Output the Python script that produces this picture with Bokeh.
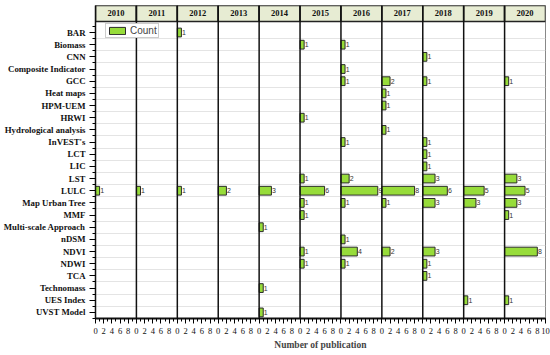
from bokeh.plotting import figure
from bokeh.models import Range1d, FixedTicker, ColumnDataSource, Span, Legend, LegendItem
from bokeh.core.properties import value
from bokeh.embed import file_html
from bokeh.resources import INLINE

methods = ["BAR", "Biomass", "CNN", "Composite Indicator", "GCC", "Heat maps", "HPM-UEM",
           "HRWI", "Hydrological analysis", "InVEST's", "LCT", "LIC", "LST", "LULC",
           "Map Urban Tree", "MMF", "Multi-scale Approach", "nDSM", "NDVI", "NDWI", "TCA",
           "Technomass", "UES Index", "UVST Model"]
years = [2010, 2011, 2012, 2013, 2014, 2015, 2016, 2017, 2018, 2019, 2020]

c2010 = {"LULC": 1}
c2011 = {"LULC": 1}
c2012 = {"BAR": 1, "LULC": 1}
c2013 = {"LULC": 2}
c2014 = {"LULC": 3, "Multi-scale Approach": 1, "Technomass": 1, "UVST Model": 1}
c2015 = {"Biomass": 1, "HRWI": 1, "LST": 1, "LULC": 6, "Map Urban Tree": 1, "MMF": 1,
         "NDVI": 1, "NDWI": 1}
c2016 = {"Biomass": 1, "Composite Indicator": 1, "GCC": 1, "InVEST's": 1, "LST": 2,
         "LULC": 9, "Map Urban Tree": 1, "nDSM": 1, "NDVI": 4, "NDWI": 1}
c2017 = {"GCC": 2, "Heat maps": 1, "HPM-UEM": 1, "Hydrological analysis": 1, "LULC": 8,
         "Map Urban Tree": 1, "NDVI": 2}
c2018 = {"CNN": 1, "GCC": 1, "InVEST's": 1, "LCT": 1, "LIC": 1, "LST": 3, "LULC": 6,
         "Map Urban Tree": 3, "NDVI": 3, "NDWI": 1, "TCA": 1}
c2019 = {"LULC": 5, "Map Urban Tree": 3, "UES Index": 1}
c2020 = {"GCC": 1, "LST": 3, "LULC": 5, "Map Urban Tree": 3, "MMF": 1, "NDVI": 8,
         "UES Index": 1}
per_year = [c2010, c2011, c2012, c2013, c2014, c2015, c2016, c2017, c2018, c2019, c2020]

PANEL = 10  # x-axis span of each year panel (0..10)
n_rows = len(methods)
HDR_TOP, HDR_BOT = -2.22, -0.91

left, right, ys, labels, lx = [], [], [], [], []
for i, d in enumerate(per_year):
    for m, c in d.items():
        left.append(i * PANEL)
        right.append(i * PANEL + c)
        ys.append(methods.index(m))
        labels.append(str(c))
        lx.append(i * PANEL + c + 0.15)
src = ColumnDataSource(dict(left=left, right=right, y=ys, label=labels, lx=lx))

serif = value("Liberation Serif")

p = figure(frame_width=450, frame_height=313, output_backend="svg", toolbar_location=None,
           x_range=Range1d(0, PANEL * len(years)),
           y_range=Range1d(n_rows - 0.5, HDR_TOP),
           min_border_left=93, min_border_right=5, min_border_top=5, min_border_bottom=35)
p.outline_line_color = "#888888"
p.background_fill_color = "white"

# header
hdr = ColumnDataSource(dict(l=[i * PANEL for i in range(len(years))],
                            r=[(i + 1) * PANEL for i in range(len(years))],
                            cx=[i * PANEL + PANEL / 2 for i in range(len(years))],
                            t=[str(y) for y in years]))
p.quad(left="l", right="r", top=HDR_TOP, bottom=HDR_BOT, source=hdr,
       fill_color="#e7ecd3", line_color="#222222", line_width=1.5)
p.text(x="cx", y=(HDR_TOP + HDR_BOT) / 2, text="t", source=hdr, text_font=serif,
       text_font_style="bold", text_font_size="8.5px", text_align="center",
       text_baseline="middle", text_color="#111111")

# grid
p.xgrid.visible = False
p.ygrid.ticker = FixedTicker(ticks=[i + 0.5 for i in range(n_rows - 1)])
p.ygrid.grid_line_color = "#e4e4e4"
p.ygrid.grid_line_width = 1

for i in range(1, len(years)):
    p.add_layout(Span(location=i * PANEL, dimension="height", line_color="#111111",
                      line_width=1.5))

bars = p.hbar(y="y", left="left", right="right", height=0.72, source=src,
              fill_color="#97dc3a", line_color="#2a2a2a", line_width=1)
p.text(x="lx", y="y", text="label", source=src, text_font=value("Liberation Sans"),
       text_font_size="7px", text_baseline="middle", text_align="left",
       text_color="#333333")

# axes
p.yaxis.ticker = FixedTicker(ticks=list(range(n_rows)),
                             minor_ticks=[i + 0.5 for i in range(-1, n_rows)])
p.yaxis.major_label_overrides = {i: m for i, m in enumerate(methods)}
p.yaxis.major_label_text_font = "Liberation Serif"
p.yaxis.major_label_text_font_style = "bold"
p.yaxis.major_label_text_font_size = "8.8px"
p.yaxis.major_label_text_color = "#111111"
p.yaxis.major_tick_out = 6
p.yaxis.major_tick_in = 0
p.yaxis.minor_tick_out = 3
p.yaxis.minor_tick_in = 0
p.yaxis.major_label_standoff = 4
p.yaxis.axis_line_width = 1.5
p.yaxis.axis_line_color = "#111111"

xt = list(range(0, PANEL * len(years) + 1, 2))
p.xaxis.ticker = FixedTicker(ticks=xt, minor_ticks=list(range(0, PANEL * len(years) + 1)))
p.xaxis.major_label_overrides = {t: (str(t % PANEL) if t < PANEL * len(years) else str(PANEL))
                                 for t in xt}
p.xaxis.major_label_text_font = "Liberation Serif"
p.xaxis.major_label_text_font_size = "8.5px"
p.xaxis.major_label_text_color = "#111111"
p.xaxis.major_tick_out = 5
p.xaxis.major_tick_in = 0
p.xaxis.minor_tick_out = 3
p.xaxis.minor_tick_in = 0
p.xaxis.major_label_standoff = 4
p.xaxis.axis_line_width = 2
p.xaxis.axis_line_color = "#111111"
p.xaxis.axis_label = "Number of publication"
p.xaxis.axis_label_text_font = "Liberation Serif"
p.xaxis.axis_label_text_font_style = "bold"
p.xaxis.axis_label_text_font_size = "9.5px"
p.xaxis.axis_label_standoff = 3

legend = Legend(items=[LegendItem(label="Count", renderers=[bars])], location=(10, 280),
                label_text_font="Liberation Sans", label_text_font_size="10px",
                glyph_width=20, glyph_height=9, padding=1, spacing=0, margin=0,
                label_standoff=3, label_height=10, border_line_color="#999999",
                background_fill_alpha=1.0)
p.add_layout(legend)

open("out.html", "w").write(file_html(p, INLINE))
